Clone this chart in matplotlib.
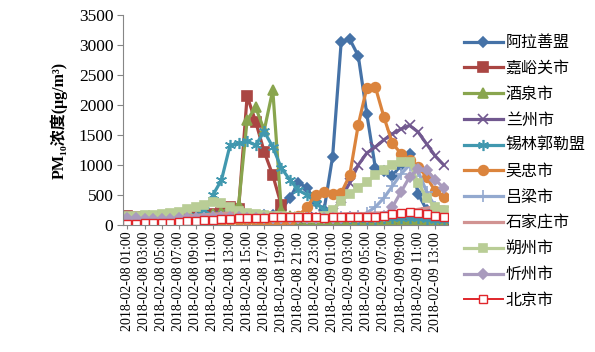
import matplotlib.pyplot as plt
import pandas as pd

plt.rcParams['font.family'] = ['Liberation Serif', 'DejaVu Serif', 'Noto Sans CJK SC']

times = pd.date_range("2018-02-08 01:00", periods=38, freq="h")
tick_labels = [t.strftime("%Y-%m-%d %H:%M") for t in times]

alashan = [100, 100, 90, 90, 80, 80, 80, 90, 90, 100, 100, 110, 120, 130, 140, 150, 160, 170,
           250, 450, 700, 620, 380, 250, 1140, 3050, 3100, 2820, 1850, 950, 900, 820, 1000, 1180,
           520, 250, 150, 100]
jiayuguan = [150, 140, 130, 130, 120, 120, 130, 140, 150, 170, 190, 200, 300, 260, 2150, 1720,
             1220, 830, 330, 30, 40, 30, 30, 20, 30, 40, 50, 50, 60, 70, 80, 90, 100, 110, 90,
             60, 20, 0]
jiuquan = [120, 110, 100, 100, 90, 90, 100, 110, 120, 150, 180, 220, 260, 330, 1750, 1960, 1580,
           2250, 250, 150, 100, 90, 80, 80, 70, 70, 60, 60, 60, 60, 50, 50, 50, 60, 60, 50, 40, 30]
lanzhou = [120, 120, 110, 110, 100, 100, 100, 110, 120, 130, 140, 150, 160, 160, 150, 150, 140,
           140, 130, 130, 120, 120, 130, 150, 200, 450, 700, 1000, 1200, 1300, 1420, 1520, 1600,
           1660, 1550, 1350, 1150, 1000]
xilin = [80, 80, 70, 70, 70, 80, 80, 100, 150, 250, 500, 750, 1330, 1360, 1400, 1330, 1560, 1300,
         950, 750, 580, 500, 370, 250, 150, 120, 110, 100, 100, 100, 110, 110, 120, 120, 110, 100,
         90, 80]
wuzhong = [50, 50, 50, 40, 40, 40, 50, 50, 60, 60, 70, 70, 80, 80, 80, 70, 70, 60, 60, 80, 150,
           300, 500, 555, 520, 530, 830, 1670, 2290, 2300, 1800, 1360, 1190, 1090, 970, 800, 560,
           470]
lvliang = [110, 110, 100, 100, 100, 100, 110, 110, 120, 120, 130, 130, 140, 140, 130, 130, 120,
           120, 120, 110, 110, 110, 120, 120, 120, 130, 130, 150, 200, 300, 450, 650, 850, 1000,
           900, 550, 300, 150]
shijiazhuang = [160, 150, 150, 140, 140, 140, 150, 150, 160, 170, 180, 190, 200, 200, 190, 180,
                180, 170, 170, 170, 160, 160, 170, 170, 180, 180, 190, 190, 190, 200, 200, 210,
                220, 240, 260, 280, 300, 300]
shuozhou = [150, 150, 160, 170, 180, 200, 220, 260, 300, 340, 380, 360, 300, 240, 200, 180, 160,
            150, 150, 140, 130, 120, 120, 150, 250, 400, 520, 620, 720, 830, 920, 1000, 1050, 1050,
            700, 450, 300, 250]
xinzhou = [110, 110, 100, 100, 100, 100, 110, 110, 120, 120, 130, 130, 130, 130, 120, 120, 120,
           120, 110, 110, 110, 110, 110, 120, 120, 120, 130, 130, 130, 140, 150, 300, 550, 800,
           930, 920, 750, 620]
beijing = [20, 20, 25, 30, 30, 40, 50, 60, 70, 80, 90, 100, 100, 110, 110, 120, 120, 130, 130,
           130, 130, 130, 130, 120, 130, 130, 130, 140, 140, 140, 150, 180, 200, 210, 200, 180,
           150, 130]

series = [
    ("阿拉善盟", alashan, "#4572A7", "D", 5),
    ("嘉峪关市", jiayuguan, "#AA4643", "s", 7),
    ("酒泉市", jiuquan, "#89A54E", "^", 7),
    ("兰州市", lanzhou, "#71588F", "x", 7),
    ("锡林郭勒盟", xilin, "#4198AF", (6, 2, 0), 8),
    ("吴忠市", wuzhong, "#DB843D", "o", 7),
    ("吕梁市", lvliang, "#93A9CF", "+", 8),
    ("石家庄市", shijiazhuang, "#D19392", "_", 8),
    ("朔州市", shuozhou, "#B9CD96", "s", 6),
    ("忻州市", xinzhou, "#A99BBD", "D", 5),
    ("北京市", beijing, "#E0262B", "s", 6),
]

fig = plt.figure(figsize=(5.95, 3.52), dpi=100)
ax = fig.add_axes([0.207, 0.361, 0.546, 0.596])

x = list(range(len(times)))
for name, vals, color, marker, ms in series:
    if name == "北京市":
        ax.plot(x, vals, color=color, lw=1.4, marker=marker, ms=ms,
                mfc="white", mec=color, mew=1.0, label=name)
    else:
        ax.plot(x, vals, color=color, lw=2.3, marker=marker, ms=ms,
                mfc=color, mec=color, mew=1.2, label=name)

ax.set_xlim(-0.5, len(times) - 0.5)
ax.set_ylim(0, 3500)
ax.set_yticks(range(0, 3501, 500))
ax.set_xticks(x[::2])
ax.set_xticklabels(tick_labels[::2], rotation=90, fontsize=10)
ax.tick_params(axis='y', labelsize=12.5, length=4, color="#868686", pad=3)
ax.tick_params(axis='x', length=3, color="#868686", pad=2)
for s in ["top", "right"]:
    ax.spines[s].set_visible(False)
for s in ["left", "bottom"]:
    ax.spines[s].set_color("#868686")

ax.set_ylabel("PM₁₀浓度(μg/m³)", fontsize=11.5, fontweight="bold", labelpad=8)

leg = ax.legend(loc="upper left", bbox_to_anchor=(1.03, 0.94), frameon=False,
                prop={'family': ['Noto Sans CJK SC'], 'size': 11.5},
                handlelength=2.4, labelspacing=0.55, handletextpad=0.2, borderaxespad=0)

fig.savefig("out.png", dpi=100)
